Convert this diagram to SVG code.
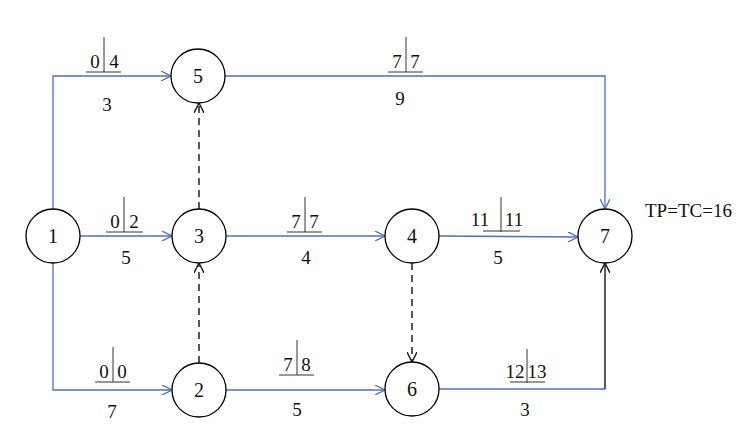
<svg xmlns="http://www.w3.org/2000/svg" width="753" height="436" viewBox="0 0 753 436">
<style>
.n circle{fill:#fff;stroke:#000;stroke-width:1.3}
text{font-family:"Liberation Serif",serif;font-size:19px;fill:#111}
.n text{text-anchor:middle;font-size:20px}
.e{fill:none;stroke:#4a72c4;stroke-width:1.3}
.d{fill:none;stroke:#222;stroke-width:1.5;stroke-dasharray:7,5}
.k{fill:none;stroke:#222;stroke-width:1.5}
.t line{stroke:#333;stroke-width:1}
.c{text-anchor:middle}
</style>
<defs>
<marker id="ab" viewBox="0 0 10 10" refX="10" refY="5" markerWidth="10" markerHeight="10" markerUnits="userSpaceOnUse" orient="auto"><path d="M0,0 L10,5 L0,10" fill="none" stroke="#4a72c4" stroke-width="1.3"/></marker>
<marker id="ak" viewBox="0 0 10 10" refX="10" refY="5" markerWidth="10" markerHeight="10" markerUnits="userSpaceOnUse" orient="auto"><path d="M0,0 L10,5 L0,10" fill="none" stroke="#222" stroke-width="1.5"/></marker>
</defs>
<g id="connectors">
<path class="e" d="M53,209 V76 H171" marker-end="url(#ab)"/>
<path class="e" d="M80,236 H172" marker-end="url(#ab)"/>
<path class="e" d="M53,263 V390 H172" marker-end="url(#ab)"/>
<path class="e" d="M225,76 H605 V209" marker-end="url(#ab)"/>
<path class="e" d="M226,236 H385" marker-end="url(#ab)"/>
<path class="e" d="M226,390 H385" marker-end="url(#ab)"/>
<path class="e" d="M439,236 L578,237" marker-end="url(#ab)"/>
<path class="e" d="M439,389 H605"/>
<path class="k" d="M605,389 V263" marker-end="url(#ak)"/>
<path class="d" d="M199,209 V103" marker-end="url(#ak)"/>
<path class="d" d="M199,363 V263" marker-end="url(#ak)"/>
<path class="d" d="M412,263 V362" marker-end="url(#ak)"/>
</g>
<g id="labels" class="t">
<line x1="104" y1="37" x2="104" y2="72"/><line x1="86" y1="72" x2="121" y2="72"/>
<text x="95" y="68" class="c">0</text><text x="114" y="68" class="c">4</text><text x="107" y="111" class="c">3</text>
<line x1="124" y1="197" x2="124" y2="232"/><line x1="106" y1="232" x2="143" y2="232"/>
<text x="115" y="228" class="c">0</text><text x="134" y="228" class="c">2</text><text x="126" y="264" class="c">5</text>
<line x1="113" y1="347" x2="113" y2="382"/><line x1="95" y1="382" x2="130" y2="382"/>
<text x="104" y="378" class="c">0</text><text x="122" y="378" class="c">0</text><text x="112" y="418" class="c">7</text>
<line x1="406" y1="37" x2="406" y2="72"/><line x1="388" y1="72" x2="423" y2="72"/>
<text x="397" y="68" class="c">7</text><text x="415" y="68" class="c">7</text><text x="400" y="105" class="c">9</text>
<line x1="305" y1="197" x2="305" y2="232"/><line x1="287" y1="232" x2="322" y2="232"/>
<text x="296" y="228" class="c">7</text><text x="314" y="228" class="c">7</text><text x="306" y="264" class="c">4</text>
<line x1="297" y1="340" x2="297" y2="375"/><line x1="279" y1="375" x2="314" y2="375"/>
<text x="288" y="371" class="c">7</text><text x="306" y="371" class="c">8</text><text x="297" y="416" class="c">5</text>
<line x1="501" y1="197" x2="501" y2="232"/><line x1="483" y1="231" x2="520" y2="231"/>
<text x="480" y="226" class="c">11</text><text x="514" y="226" class="c">11</text><text x="498" y="264" class="c">5</text>
<line x1="527" y1="349" x2="527" y2="383"/><line x1="510" y1="382" x2="545" y2="382"/>
<text x="515" y="378" class="c">12</text><text x="537" y="378" class="c">13</text><text x="525" y="416" class="c">3</text>
<text x="645" y="217">TP=TC=16</text>
</g>
<g id="n1" class="n"><circle cx="53" cy="236" r="27"/><text x="53" y="243">1</text></g>
<g id="n5" class="n"><circle cx="198" cy="76" r="27"/><text x="198" y="83">5</text></g>
<g id="n3" class="n"><circle cx="199" cy="236" r="27"/><text x="199" y="243">3</text></g>
<g id="n2" class="n"><circle cx="199" cy="390" r="27"/><text x="199" y="397">2</text></g>
<g id="n4" class="n"><circle cx="412" cy="236" r="27"/><text x="412" y="243">4</text></g>
<g id="n6" class="n"><circle cx="412" cy="389" r="27"/><text x="412" y="396">6</text></g>
<g id="n7" class="n"><circle cx="605" cy="236" r="27"/><text x="605" y="243">7</text></g>
</svg>
